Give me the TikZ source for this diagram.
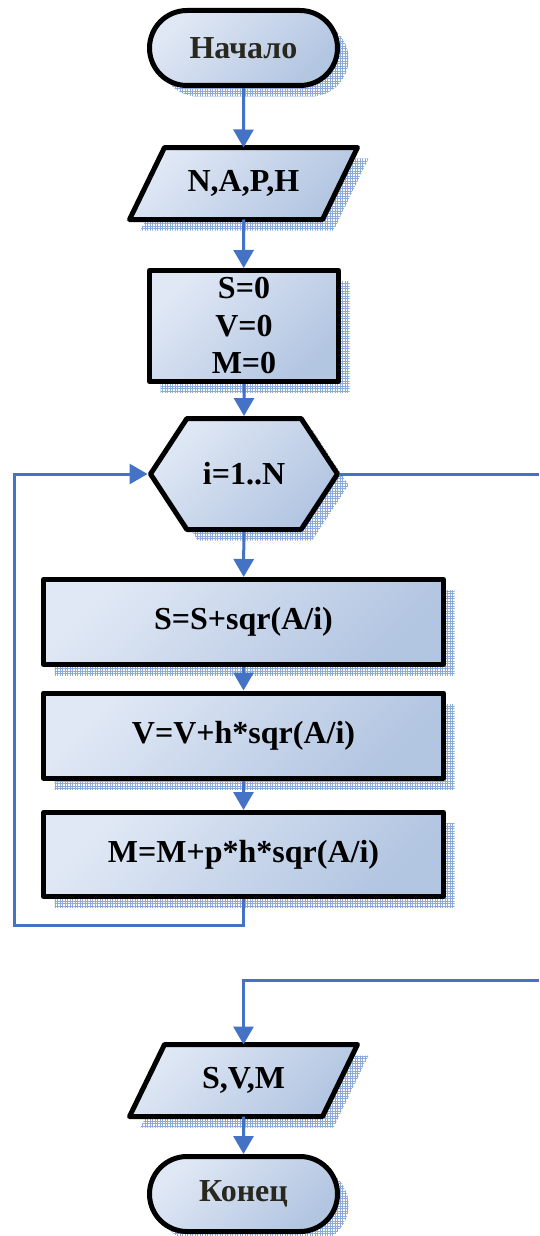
\documentclass[tikz,border=0pt]{standalone}
\usepackage{fontspec}
\setmainfont{Liberation Serif}
\usetikzlibrary{shapes.geometric,shapes.misc,shapes.symbols,arrows.meta,shadows,patterns}
\pgfdeclarepatternformonly{fgrid}{\pgfqpoint{-0.5pt}{-0.5pt}}{\pgfqpoint{3pt}{3pt}}{\pgfqpoint{2.5pt}{2.5pt}}{%
  \pgfsetlinewidth{0.6pt}%
  \pgfpathmoveto{\pgfqpoint{0pt}{0pt}}\pgfpathlineto{\pgfqpoint{2.6pt}{0pt}}%
  \pgfpathmoveto{\pgfqpoint{0pt}{0pt}}\pgfpathlineto{\pgfqpoint{0pt}{2.6pt}}%
  \pgfusepath{stroke}}
\definecolor{linkc}{RGB}{68,114,196}
\definecolor{cA}{RGB}{224,232,245}
\definecolor{cB}{RGB}{178,197,225}
\definecolor{shc}{RGB}{140,170,220}
\definecolor{startc}{RGB}{40,40,30}
\tikzset{
  fillstyle/.style={draw=black, line width=5pt, line join=round, top color=cA, bottom color=cB,
    shading angle=45,
    drop shadow={shadow xshift=11pt, shadow yshift=-11pt, pattern=fgrid, pattern color=shc, opacity=1}},
  txt/.style={font=\fontsize{32}{37.5}\selectfont\bfseries, text=black, inner sep=0pt, align=center},
  blk/.style={fillstyle, txt},
  termbox/.style={blk, rounded rectangle, minimum width=188pt, minimum height=75pt, text=startc},
  iotext/.style={txt, rectangle, outer sep=0pt, minimum width=193pt, minimum height=72pt},
  procbox/.style={blk, rectangle},
  conn/.style={draw=linkc, line width=3pt},
  arr/.style={conn, -{Triangle[width=20pt,length=18pt]}}
}
\begin{document}
\begin{tikzpicture}[x=1pt,y=-1pt]
\useasboundingbox (0,0) rectangle (539,1236);
\node[termbox] (start) at (243.5,48) {Начало};

\coordinate (inc) at (243.5,183.5);
\path[fillstyle] ([shift={(-79,-36)}]inc) -- ([shift={(114,-36)}]inc) -- ([shift={(79,36)}]inc) -- ([shift={(-114,36)}]inc) -- cycle;
\node[iotext] (in) at (inc) {N,A,P,H};

\node[procbox, minimum width=189pt, minimum height=111pt] (init) at (244,326) {S=0\\V=0\\M=0};
\node[blk, signal, signal to=east and west, signal pointer angle=113.5, minimum width=187pt, minimum height=111pt] (loop) at (244,474) {i=1..N};
\node[procbox, minimum width=400pt, minimum height=85pt] (b1) at (243.5,622) {S=S+sqr(A/i)};
\node[procbox, minimum width=400pt, minimum height=85pt] (b2) at (243.5,735.5) {V=V+h*sqr(A/i)};
\node[procbox, minimum width=400pt, minimum height=84pt] (b3) at (243.5,854.5) {M=M+p*h*sqr(A/i)};

\coordinate (outc) at (243.5,1080.5);
\path[fillstyle] ([shift={(-79,-36)}]outc) -- ([shift={(114,-36)}]outc) -- ([shift={(79,36)}]outc) -- ([shift={(-114,36)}]outc) -- cycle;
\node[iotext] (out) at (outc) {S,V,M};

\node[termbox] (end) at (243.5,1194) {Конец};

\coordinate (lb) at (243.5,925);
\coordinate (ll) at (14,925);
\coordinate (lt) at (14,474);
\coordinate (xr) at (539,474);
\coordinate (er) at (539,980);
\coordinate (ed) at (243.5,980);

\draw[arr] (start) -- (in.north);
\draw[arr] (in.south) -- (init);
\draw[arr] (init) -- (loop);
\draw[arr] (loop) -- (b1);
\draw[arr] (b1) -- (b2);
\draw[arr] (b2) -- (b3);
\draw[arr] (b3.south) -- (lb) -- (ll) -- (lt) -- (loop.west);
\draw[conn] (loop.east) -- (xr);
\draw[arr] (er) -- (ed) -- (out.north);
\draw[arr] (out.south) -- (end);
\end{tikzpicture}
\end{document}
